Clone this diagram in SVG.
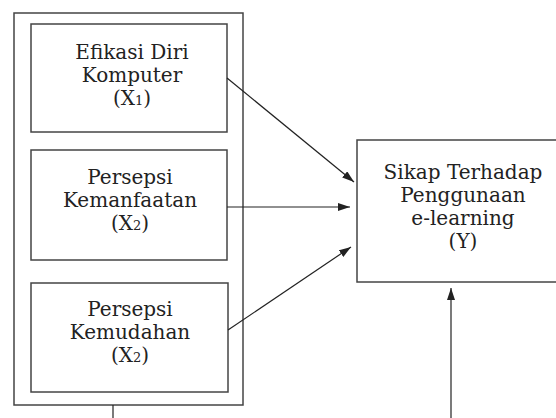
<svg xmlns="http://www.w3.org/2000/svg" width="556" height="418" viewBox="0 0 556 418">
<defs>
<style>
.box{fill:#fff;stroke:#444;stroke-width:1.5}
.t{font-family:"DejaVu Serif","Liberation Serif",serif;font-size:20px;fill:#222;text-anchor:middle}
.sub{font-size:13px}
.c{stroke:#222;stroke-width:1.2;fill:none}
</style>
<marker id="ah" viewBox="0 0 12 8" refX="12" refY="4" markerWidth="12" markerHeight="8" markerUnits="userSpaceOnUse" orient="auto">
<path d="M0,0 L12,4 L0,8 Z" fill="#222"/>
</marker>
</defs>
<rect width="556" height="418" fill="#fff"/>
<g id="outer"><rect class="box" x="14" y="13" width="229" height="392"/></g>
<g id="x1">
<rect class="box" x="31" y="24" width="196" height="108"/>
<text class="t" x="132" y="59">Efikasi Diri</text>
<text class="t" x="132" y="82">Komputer</text>
<text class="t" x="132" y="105">(X<tspan class="sub">1</tspan>)</text>
</g>
<g id="x2">
<rect class="box" x="31" y="150" width="196" height="110"/>
<text class="t" x="130" y="184">Persepsi</text>
<text class="t" x="130" y="207">Kemanfaatan</text>
<text class="t" x="130" y="230">(X<tspan class="sub">2</tspan>)</text>
</g>
<g id="x3">
<rect class="box" x="31" y="283" width="197" height="109"/>
<text class="t" x="130" y="316">Persepsi</text>
<text class="t" x="130" y="339">Kemudahan</text>
<text class="t" x="130" y="362">(X<tspan class="sub">2</tspan>)</text>
</g>
<g id="y">
<rect class="box" x="357" y="140" width="215" height="142"/>
<text class="t" x="463" y="179">Sikap Terhadap</text>
<text class="t" x="463" y="202">Penggunaan</text>
<text class="t" x="463" y="225">e-learning</text>
<text class="t" x="463" y="248">(Y)</text>
</g>
<g id="connectors">
<line class="c" x1="227" y1="78" x2="354" y2="182" marker-end="url(#ah)"/>
<line class="c" x1="227" y1="207" x2="350" y2="207" marker-end="url(#ah)"/>
<line class="c" x1="228" y1="330" x2="351" y2="247" marker-end="url(#ah)"/>
<line class="c" x1="451" y1="418" x2="451" y2="288" marker-end="url(#ah)"/>
<line class="c" x1="113" y1="405" x2="113" y2="418"/>
</g>
</svg>
